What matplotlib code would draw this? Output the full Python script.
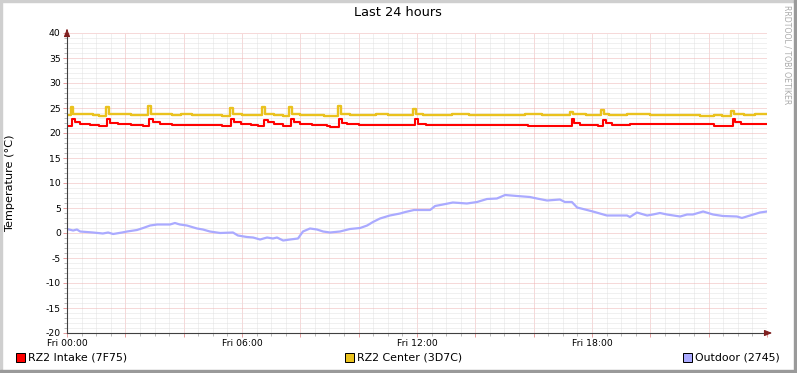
import matplotlib.pyplot as plt
import numpy as np
from matplotlib.ticker import MultipleLocator, FuncFormatter
from matplotlib.patches import Rectangle

# data (hours since Fri 00:00, degrees C)
intake_t = [0.00, 0.16, 0.28, 0.45, 0.80, 1.10, 1.38, 1.48, 1.75, 2.20, 2.60, 2.82, 2.95,
            3.20, 3.60, 4.10, 4.70, 5.30, 5.61, 5.72, 5.95, 6.30, 6.55, 6.75, 6.88, 7.10,
            7.40, 7.67, 7.78, 8.00, 8.40, 8.90, 9.02, 9.34, 9.44, 9.60, 10.00, 10.50,
            11.00, 11.50, 11.93, 12.03, 12.30, 13.00, 14.00, 15.00, 15.80, 16.60, 17.00,
            17.30, 17.40, 17.60, 17.90, 18.20, 18.37, 18.47, 18.70, 19.30, 20.00, 20.70,
            21.40, 21.90, 22.20, 22.82, 22.92, 23.10, 23.40, 24.00]
intake_v = [21.5, 22.9, 22.3, 21.9, 21.7, 21.4, 22.8, 22.1, 21.8, 21.6, 21.4, 22.8, 22.2,
            21.8, 21.7, 21.6, 21.6, 21.4, 22.8, 22.2, 21.8, 21.6, 21.4, 22.7, 22.2, 21.8,
            21.4, 22.8, 22.2, 21.8, 21.6, 21.5, 21.3, 22.9, 22.1, 21.8, 21.7, 21.7,
            21.6, 21.7, 22.8, 21.9, 21.7, 21.7, 21.7, 21.6, 21.4, 21.5, 21.5,
            22.8, 22.0, 21.7, 21.6, 21.4, 22.6, 22.1, 21.7, 21.8, 21.8, 21.8,
            21.8, 21.8, 21.5, 22.8, 22.2, 21.9, 21.8, 21.8]

center_t = [0.00, 0.12, 0.22, 0.50, 0.90, 1.10, 1.33, 1.43, 1.70, 2.20, 2.50, 2.78, 2.88,
            3.20, 3.60, 3.90, 4.30, 4.70, 5.00, 5.30, 5.58, 5.68, 6.00, 6.40, 6.70, 6.80,
            7.10, 7.40, 7.62, 7.72, 8.00, 8.40, 8.80, 9.29, 9.39, 9.70, 10.10, 10.60,
            11.00, 11.40, 11.88, 11.98, 12.20, 12.60, 13.20, 13.80, 14.40, 15.00, 15.70,
            16.30, 16.90, 17.25, 17.35, 17.80, 18.10, 18.30, 18.40, 18.60, 19.20, 20.00,
            20.60, 21.20, 21.70, 22.20, 22.45, 22.77, 22.87, 23.20, 23.60, 24.00]
center_v = [23.6, 25.2, 23.9, 23.8, 23.7, 23.5, 25.3, 23.9, 23.8, 23.7, 23.6, 25.4, 23.9,
            23.8, 23.7, 23.8, 23.6, 23.7, 23.6, 23.5, 25.0, 23.9, 23.7, 23.6, 25.3, 23.9,
            23.6, 23.5, 25.3, 23.8, 23.7, 23.6, 23.5, 25.4, 23.9, 23.6, 23.7, 23.8,
            23.6, 23.7, 24.9, 23.8, 23.6, 23.7, 23.8, 23.7, 23.6, 23.7, 23.8,
            23.7, 23.6, 24.3, 23.8, 23.7, 23.6, 24.7, 23.9, 23.7, 23.8, 23.7,
            23.6, 23.7, 23.5, 23.6, 23.4, 24.5, 23.8, 23.7, 23.8, 23.8]

outdoor_t = [0.00, 0.21, 0.34, 0.45, 0.89, 1.23, 1.41, 1.58, 1.89, 2.06, 2.40, 2.61, 2.85,
             3.09, 3.53, 3.70, 3.87, 4.11, 4.46, 4.66, 4.90, 5.25, 5.69, 5.86, 6.17, 6.38,
             6.62, 6.86, 7.06, 7.20, 7.41, 7.65, 7.92, 8.09, 8.33, 8.57, 8.78, 9.02, 9.36,
             9.70, 10.05, 10.29, 10.49, 10.73, 11.07, 11.42, 11.60, 11.90, 12.45, 12.62,
             12.89, 13.23, 13.71, 14.06, 14.40, 14.74, 15.02, 15.43, 15.87, 16.11, 16.46,
             16.90, 17.07, 17.31, 17.49, 17.83, 18.03, 18.51, 19.20, 19.30, 19.54, 19.89,
             20.09, 20.33, 20.57, 21.02, 21.26, 21.46, 21.81, 22.15, 22.49, 22.97, 23.14,
             23.42, 23.76, 24.00]
outdoor_v = [0.8, 0.5, 0.7, 0.3, 0.1, -0.1, 0.1, -0.2, 0.1, 0.3, 0.6, 1.0, 1.5,
             1.7, 1.7, 2.0, 1.7, 1.5, 0.9, 0.7, 0.3, 0.0, 0.1, -0.5, -0.8, -0.9,
             -1.3, -0.9, -1.1, -0.9, -1.5, -1.3, -1.1, 0.3, 0.9, 0.7, 0.3, 0.1, 0.3,
             0.8, 1.0, 1.5, 2.2, 2.9, 3.5, 3.9, 4.2, 4.6, 4.6, 5.4,
             5.7, 6.1, 5.9, 6.2, 6.8, 6.9, 7.6, 7.4, 7.2, 6.9, 6.5,
             6.7, 6.2, 6.2, 5.1, 4.6, 4.3, 3.5, 3.5, 3.2, 4.1, 3.5,
             3.7, 4.0, 3.7, 3.3, 3.7, 3.7, 4.3, 3.7, 3.4, 3.3, 3.0,
             3.5, 4.1, 4.3]

labels = ['RZ2 Intake (7F75)', 'RZ2 Center (3D7C)', 'Outdoor (2745)']
colors = ['#FF0000', '#EAC21E', '#AAAAFF']

W, H = 797, 373
fig = plt.figure(figsize=(W / 100, H / 100), dpi=100, facecolor='white')
ax = fig.add_axes([67 / W, 1 - 333 / H, 700 / W, 300 / H])

ax.plot(intake_t, intake_v, color=colors[0], lw=1.5, drawstyle='steps-post')
ax.plot(center_t, center_v, color=colors[1], lw=1.7, drawstyle='steps-post')
ax.plot(outdoor_t, outdoor_v, color=colors[2], lw=1.6)

ax.set_xlim(0, 24)
ax.set_ylim(-20, 40)

# grid like rrdtool: dotted grey minor, dotted red major
ax.xaxis.set_major_locator(MultipleLocator(2))
ax.xaxis.set_minor_locator(MultipleLocator(0.5))
ax.yaxis.set_major_locator(MultipleLocator(5))
ax.yaxis.set_minor_locator(MultipleLocator(1))
ax.xaxis.set_major_formatter(FuncFormatter(
    lambda v, p: 'Fri %02d:00' % v if int(round(v)) % 6 == 0 and v < 24 else ''))
ax.yaxis.set_major_formatter(FuncFormatter(lambda v, p: '%d' % v))
ax.grid(which='minor', color='#E2E2E2', linestyle=(0, (1, 1)), linewidth=0.72)
ax.grid(which='major', color='#EFB4B4', linestyle=(0, (1, 1)), linewidth=0.72)
ax.set_axisbelow(True)

ax.tick_params(which='major', direction='out', length=3, width=0.72, color='#E8A0A0',
               labelsize=6.7, pad=1.5)
ax.tick_params(which='minor', direction='out', length=2, width=0.72, color='#BBBBBB')
ax.tick_params(axis='x', which='major', pad=1)

for s in ['top', 'right']:
    ax.spines[s].set_visible(False)
for s in ['left', 'bottom']:
    ax.spines[s].set_color('#404040')
    ax.spines[s].set_linewidth(0.8)

# axis arrows
ax.annotate('', xy=(1 + 8 / 700, 0), xytext=(0.999, 0), xycoords='axes fraction',
            arrowprops=dict(arrowstyle='-|>,head_length=0.45,head_width=0.18',
                            color='#802020', lw=0.8), annotation_clip=False)
ax.annotate('', xy=(0, 1 + 7 / 300), xytext=(0, 0.999), xycoords='axes fraction',
            arrowprops=dict(arrowstyle='-|>,head_length=0.45,head_width=0.18',
                            color='#802020', lw=0.8), annotation_clip=False)

fig.text(398 / W, 1 - 13 / H, 'Last 24 hours', ha='center', va='center', fontsize=9.3)
fig.text(10 / W, 1 - 183 / H, 'Temperature (°C)', rotation=90, ha='center', va='center',
         fontsize=8.1)
fig.text(787 / W, 1 - 5 / H, 'RRDTOOL / TOBI OETIKER', rotation=-90, ha='center', va='top',
         fontsize=5.6, color='#AAAAAA')

# legend row
for x0, lab, c in zip([16, 345, 683], labels, colors):
    fig.patches.append(Rectangle((x0 / W, 1 - 362 / H), 9 / W, 9 / H, transform=fig.transFigure,
                                 facecolor=c, edgecolor='black', lw=0.72))
    fig.text((x0 + 12) / W, 1 - 358 / H, lab, ha='left', va='center', fontsize=7.9)

# canvas frame
fig.patches.append(Rectangle((0, 1 - 2 / H), 1, 2 / H, transform=fig.transFigure, color='#CFCFCF'))
fig.patches.append(Rectangle((0, 0), 2 / W, 1, transform=fig.transFigure, color='#CFCFCF'))
fig.patches.append(Rectangle((1 - 3 / W, 0), 3 / W, 1, transform=fig.transFigure, color='#9A9A9A'))
fig.patches.append(Rectangle((0, 0), 1, 3 / H, transform=fig.transFigure, color='#9A9A9A'))

fig.savefig('out.png', dpi=100, facecolor='white')
